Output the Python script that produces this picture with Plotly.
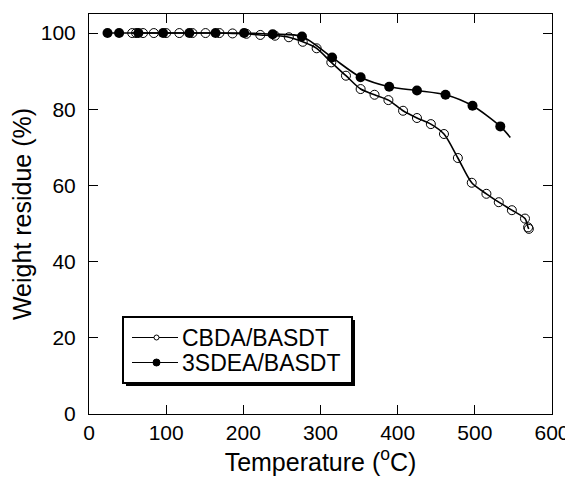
import plotly.graph_objects as go

# CBDA/BASDT (open circles)
cbda_temp = [56, 61, 70, 84, 100, 117, 134, 151, 169, 186, 204, 222, 241, 259, 277, 295,
             314, 333, 352, 370, 388, 407, 425, 443, 460, 478, 496, 515, 531, 548, 565, 569, 570]
cbda_wt = [100, 100, 100, 100, 100, 100, 100, 100, 100, 99.9, 99.8, 99.5, 99.3, 98.9, 97.7, 96.0,
           92.3, 88.8, 85.3, 83.8, 82.4, 79.6, 77.7, 76.1, 73.5, 67.2, 60.7, 57.8, 55.6, 53.5, 51.3, 49.0, 48.6]

# 3SDEA/BASDT (filled circles)
sdea_temp = [24, 39, 64, 96, 130, 164, 201, 238, 276, 315, 352, 389, 425, 462, 497, 533]
sdea_wt = [100, 100, 100, 100, 100, 100, 100, 99.7, 99.1, 93.6, 88.4, 85.9, 84.9, 83.8, 80.9, 75.5]
sdea_line_end_temp = [546]
sdea_line_end_wt = [72.6]

series_names = ["CBDA/BASDT", "3SDEA/BASDT"]
x_ticks = [0, 100, 200, 300, 400, 500, 600]
y_ticks = [0, 20, 40, 60, 80, 100]

FONT = "Liberation Sans, Arial, sans-serif"

# the page body adds an 8px margin around the figure; compensate
OFF = 8
W, H = 573 - OFF, 479 - OFF
L, R, T, B = 89 - OFF, 21, 14 - OFF, 65
pw, ph = W - L - R, H - T - B

def px_x(p):
    return (p - OFF - L) / pw

def px_y(p):
    return (H - B - (p - OFF)) / ph

fig = go.Figure()

# curves
fig.add_trace(go.Scatter(x=cbda_temp, y=cbda_wt, mode="lines",
                         line=dict(color="black", width=1.6, shape="spline", smoothing=0.8),
                         showlegend=False, hoverinfo="skip"))
fig.add_trace(go.Scatter(x=sdea_temp + sdea_line_end_temp, y=sdea_wt + sdea_line_end_wt, mode="lines",
                         line=dict(color="black", width=1.6, shape="spline", smoothing=0.8),
                         showlegend=False, hoverinfo="skip"))
# markers
fig.add_trace(go.Scatter(x=cbda_temp, y=cbda_wt, mode="markers", name=series_names[0],
                         marker=dict(symbol="circle-open", size=9, color="black", line=dict(width=1)),
                         showlegend=False))
fig.add_trace(go.Scatter(x=sdea_temp, y=sdea_wt, mode="markers", name=series_names[1],
                         marker=dict(symbol="circle", size=10, color="black"),
                         showlegend=False))

# ---- legend box (drawn as shapes + text) ----
box_l, box_r, box_t, box_b = 123, 352, 317, 383
fig.add_shape(type="rect", xref="paper", yref="paper",
              x0=px_x(box_l + 3), x1=px_x(box_r + 3), y0=px_y(box_b + 3), y1=px_y(box_t + 3),
              fillcolor="black", line=dict(width=0), layer="above")
fig.add_shape(type="rect", xref="paper", yref="paper",
              x0=px_x(box_l), x1=px_x(box_r), y0=px_y(box_b), y1=px_y(box_t),
              fillcolor="white", line=dict(color="black", width=2), layer="above")
rows = [337.5, 362.5]
symbols = [("open", 5), ("filled", 7)]
for name, ry, (kind, d) in zip(series_names, rows, symbols):
    fig.add_shape(type="line", xref="paper", yref="paper",
                  x0=px_x(132), x1=px_x(178), y0=px_y(ry), y1=px_y(ry),
                  line=dict(color="black", width=1), layer="above")
    fig.add_shape(type="circle", xref="paper", yref="paper",
                  xsizemode="pixel", ysizemode="pixel",
                  xanchor=px_x(156.5), yanchor=px_y(ry),
                  x0=-d / 2, x1=d / 2, y0=-d / 2, y1=d / 2,
                  fillcolor="white" if kind == "open" else "black",
                  line=dict(color="black", width=1), layer="above")
    fig.add_annotation(xref="paper", yref="paper", x=px_x(180), y=px_y(ry),
                       xanchor="left", yanchor="middle", showarrow=False,
                       text=name, font=dict(family=FONT, size=23, color="black"))

axis_common = dict(showline=True, linecolor="black", linewidth=1, mirror="ticks",
                   ticks="inside", ticklen=9, tickwidth=1, tickcolor="black",
                   showgrid=False, zeroline=False, automargin=False,
                   tickfont=dict(family=FONT, size=21, color="black"))

fig.update_layout(
    width=W, height=H,
    margin=dict(l=L, r=R, t=T, b=B),
    paper_bgcolor="white", plot_bgcolor="white",
    font=dict(family=FONT, color="black"),
    showlegend=False,
    xaxis=dict(range=[0, 600], tickvals=x_ticks,
               title=dict(text="Temperature (<sup>o</sup>C)", font=dict(family=FONT, size=25), standoff=4),
               **axis_common),
    yaxis=dict(range=[0, 105], tickvals=y_ticks, ticklabelstandoff=8,
               title=dict(text="Weight residue (%)", font=dict(family=FONT, size=25), standoff=6),
               **axis_common),
)

fig.write_html("out.html")
